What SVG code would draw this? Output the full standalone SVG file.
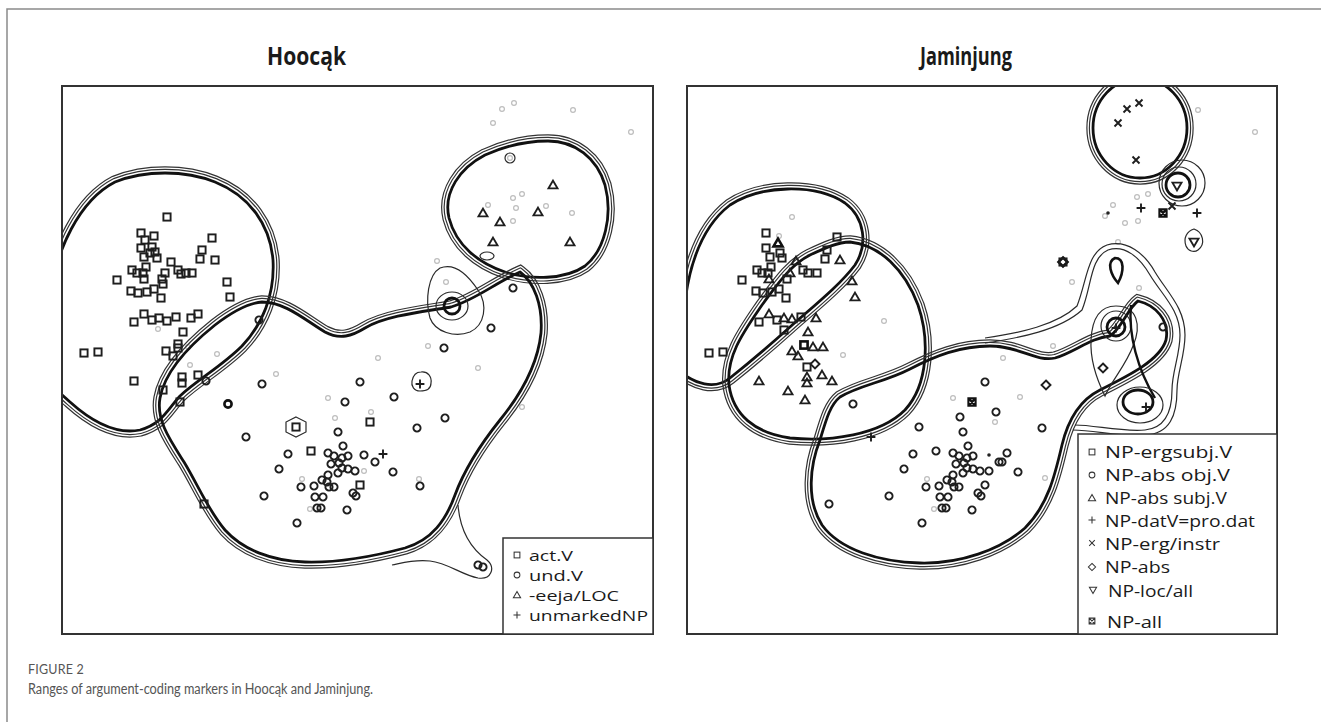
<svg xmlns="http://www.w3.org/2000/svg" width="1321" height="722" viewBox="0 0 1321 722">
<style>
.frame{fill:none;stroke:#8a8a8a;stroke-width:1.5}
.panel{fill:none;stroke:#333;stroke-width:2}
.title{font-family:"Open Sans","Liberation Sans",sans-serif;font-weight:700;font-size:25px;fill:#1a1a1a}
.leg{font-family:"Open Sans","Liberation Sans",sans-serif;font-size:17px;fill:#1a1a1a}
.legs{font-family:"Open Sans","Liberation Sans",sans-serif;font-size:15px;fill:#1a1a1a}
.cap1{font-family:Lato,"Open Sans",sans-serif;font-size:12.5px;fill:#555;letter-spacing:0.2px}
.cap2{font-family:Lato,"Open Sans",sans-serif;font-size:15.5px;fill:#555}
.mk{fill:none;stroke:#1e1e1e;stroke-width:1.9}
.mkb{fill:none;stroke:#111;stroke-width:2.6}
.mkx{fill:none;stroke:#111;stroke-width:2.1}
.lmk{fill:none;stroke:#333;stroke-width:1.3}
.gd{fill:none;stroke:#bdbdbd;stroke-width:1.2}
.bl{fill:none;stroke:#111;stroke-width:2.8}
.t1{fill:none;stroke:#333;stroke-width:8.4}
.t2{fill:none;stroke:#333;stroke-width:13.4}
.m1{fill:#000;stroke:#000;stroke-width:6}
.m2{fill:#000;stroke:#000;stroke-width:11}
.th{fill:none;stroke:#2a2a2a;stroke-width:1.2}
.dt{fill:#222}
</style>
<defs>
<g id="sq"><rect x="-3.6" y="-3.6" width="7.2" height="7.2"/></g>
<circle id="ci" r="3.6"/>
<path id="tr" d="M0,-4.4L4.5,3.4H-4.5Z"/>
<path id="pl" d="M-4.4,0H4.4M0,-4.4V4.4"/>
<path id="xx" d="M-3.5,-3.5L3.5,3.5M-3.5,3.5L3.5,-3.5"/>
<path id="di" d="M0,-4.5L4.5,0L0,4.5L-4.5,0Z"/>
<path id="td" d="M-4.5,-3.4H4.5L0,4.4Z"/>
<path id="sx" d="M-3.6,-3.6H3.6V3.6H-3.6Z M-3.6,-3.6L3.6,3.6M-3.6,3.6L3.6,-3.6"/>
<circle id="gdot" r="2.4"/>
<clipPath id="clipL"><rect x="62" y="86" width="591" height="548"/></clipPath>
<clipPath id="clipR"><rect x="687" y="86" width="590" height="548"/></clipPath>

<path id="pA1" d="M50,300 C55,250 80,200 115,182 C145,170 185,170 215,182 C250,196 270,225 273,260 C275,295 262,325 242,346 C222,366 197,380 180,396 C167,410 162,424 140,430 C115,435 90,420 70,402 C60,393 52,386 45,380 Z"/>
<path id="pA2" d="M548,141 C575,141 597,158 605,185 C613,215 605,250 585,266 C565,280 530,280 505,272 C478,263 456,245 449,218 C443,192 460,168 485,155 C505,146 525,141 548,141 Z"/>
<path id="pA3" d="M262,302 C285,302 305,320 325,332 C340,340 352,336 365,328 C385,316 420,312 451,307 C475,300 495,283 520,272 C534,282 543,305 541,333 C538,362 522,393 500,420 C480,445 465,468 455,495 C446,520 432,540 405,548 C375,556 340,563 305,562 C272,561 243,550 225,530 C208,510 198,485 184,462 C170,440 156,420 160,398 C165,370 190,345 215,325 C232,312 248,303 262,302 Z"/>
<path id="pR1" d="M684,310 C688,270 700,228 730,205 C760,185 815,183 845,203 C865,218 868,245 855,265 C840,285 815,305 790,327 C770,345 750,362 730,378 C715,390 695,385 675,368 Z"/>
<path id="pR2" d="M850,242 C880,245 905,270 918,305 C930,340 928,385 905,410 C880,435 830,442 790,438 C755,433 733,415 729,385 C726,355 745,330 762,305 C777,285 790,265 810,255 C825,248 838,242 850,242 Z"/>
<path id="pR3" d="M840,397 C860,385 885,382 910,369 C935,356 960,346 990,346 C1020,346 1035,362 1055,358 C1075,352 1090,338 1110,336 C1122,328 1128,308 1138,301 C1155,305 1170,320 1166,340 C1160,360 1130,375 1100,390 C1080,400 1068,420 1062,445 C1055,475 1048,505 1025,528 C1000,550 960,564 920,563 C880,562 840,550 822,525 C806,500 810,465 820,440 C826,420 830,405 840,397 Z"/>
<path id="pR4" d="M1093,128 A47,50 0 1,0 1187,128 A47,50 0 1,0 1093,128 Z"/>

<mask id="kA1a" maskUnits="userSpaceOnUse" x="0" y="0" width="1321" height="722"><rect width="1321" height="722" fill="#fff"/><use href="#pA1" class="m1"/></mask>
<mask id="kA1b" maskUnits="userSpaceOnUse" x="0" y="0" width="1321" height="722"><rect width="1321" height="722" fill="#fff"/><use href="#pA1" class="m2"/></mask>
<mask id="kA2a" maskUnits="userSpaceOnUse" x="0" y="0" width="1321" height="722"><rect width="1321" height="722" fill="#fff"/><use href="#pA2" class="m1"/></mask>
<mask id="kA2b" maskUnits="userSpaceOnUse" x="0" y="0" width="1321" height="722"><rect width="1321" height="722" fill="#fff"/><use href="#pA2" class="m2"/></mask>
<mask id="kA3a" maskUnits="userSpaceOnUse" x="0" y="0" width="1321" height="722"><rect width="1321" height="722" fill="#fff"/><use href="#pA3" class="m1"/></mask>
<mask id="kA3b" maskUnits="userSpaceOnUse" x="0" y="0" width="1321" height="722"><rect width="1321" height="722" fill="#fff"/><use href="#pA3" class="m2"/></mask>
<mask id="kR1a" maskUnits="userSpaceOnUse" x="0" y="0" width="1321" height="722"><rect width="1321" height="722" fill="#fff"/><use href="#pR1" class="m1"/></mask>
<mask id="kR1b" maskUnits="userSpaceOnUse" x="0" y="0" width="1321" height="722"><rect width="1321" height="722" fill="#fff"/><use href="#pR1" class="m2"/></mask>
<mask id="kR2a" maskUnits="userSpaceOnUse" x="0" y="0" width="1321" height="722"><rect width="1321" height="722" fill="#fff"/><use href="#pR2" class="m1"/></mask>
<mask id="kR2b" maskUnits="userSpaceOnUse" x="0" y="0" width="1321" height="722"><rect width="1321" height="722" fill="#fff"/><use href="#pR2" class="m2"/></mask>
<mask id="kR3a" maskUnits="userSpaceOnUse" x="0" y="0" width="1321" height="722"><rect width="1321" height="722" fill="#fff"/><use href="#pR3" class="m1"/></mask>
<mask id="kR3b" maskUnits="userSpaceOnUse" x="0" y="0" width="1321" height="722"><rect width="1321" height="722" fill="#fff"/><use href="#pR3" class="m2"/></mask>
<mask id="kR4a" maskUnits="userSpaceOnUse" x="0" y="0" width="1321" height="722"><rect width="1321" height="722" fill="#fff"/><use href="#pR4" class="m1"/></mask>
<mask id="kR4b" maskUnits="userSpaceOnUse" x="0" y="0" width="1321" height="722"><rect width="1321" height="722" fill="#fff"/><use href="#pR4" class="m2"/></mask>
</defs>

<rect width="1321" height="722" fill="#fff"/>
<path class="frame" d="M7,722 V9 H1321"/>

<!-- Titles -->
<text id="title-hoocak" class="title" x="267" y="65" textLength="79" lengthAdjust="spacingAndGlyphs">Hoocąk</text>
<text id="title-jaminjung" class="title" x="920" y="65" textLength="92" lengthAdjust="spacingAndGlyphs">Jaminjung</text>

<!-- LEFT PANEL -->
<g id="panel-hoocak">
<g clip-path="url(#clipL)">
<g id="gray-left" class="gd">
<use href="#gdot" x="502" y="109"/><use href="#gdot" x="514" y="103"/><use href="#gdot" x="493" y="123"/><use href="#gdot" x="573" y="110"/><use href="#gdot" x="631" y="132"/>
<use href="#gdot" x="513" y="198"/><use href="#gdot" x="522" y="194"/><use href="#gdot" x="488" y="205"/><use href="#gdot" x="516" y="208"/><use href="#gdot" x="546" y="206"/><use href="#gdot" x="513" y="221"/><use href="#gdot" x="572" y="213"/>
<use href="#gdot" x="437" y="261"/><use href="#gdot" x="446" y="282"/><use href="#gdot" x="428" y="346"/><use href="#gdot" x="378" y="358"/><use href="#gdot" x="478" y="368"/><use href="#gdot" x="522" y="407"/><use href="#gdot" x="419" y="479"/>
<use href="#gdot" x="217" y="354"/><use href="#gdot" x="188" y="347"/><use href="#gdot" x="190" y="365"/><use href="#gdot" x="276" y="374"/><use href="#gdot" x="328" y="398"/><use href="#gdot" x="335" y="418"/><use href="#gdot" x="371" y="412"/><use href="#gdot" x="302" y="479"/><use href="#gdot" x="310" y="509"/><use href="#gdot" x="364" y="471"/><use href="#gdot" x="158" y="329"/><use href="#gdot" x="510" y="158"/>
</g>
<g id="contours-left">
<g id="range-actV"><use href="#pA1" class="t1" mask="url(#kA1a)"/><use href="#pA1" class="t2" mask="url(#kA1b)"/><use href="#pA1" class="bl"/></g>
<g id="range-eeja"><use href="#pA2" class="t1" mask="url(#kA2a)"/><use href="#pA2" class="t2" mask="url(#kA2b)"/><use href="#pA2" class="bl"/></g>
<g id="range-undV"><use href="#pA3" class="t1" mask="url(#kA3a)"/><use href="#pA3" class="t2" mask="url(#kA3b)"/><use href="#pA3" class="bl"/></g>
<path class="th" d="M458,505 C460,530 470,548 487,560 C496,568 491,580 478,578 C462,575 448,563 430,561 C415,559 402,563 392,565"/>
<path class="th" d="M440,268 C455,262 468,275 478,290 C488,305 485,325 470,332 C455,338 435,332 430,318 C425,300 428,275 440,268 Z"/>
<ellipse class="th" cx="452" cy="306" rx="16" ry="14"/>
<circle cx="452" cy="306" r="8" fill="none" stroke="#111" stroke-width="2.8"/>
<circle class="th" cx="510" cy="158" r="5"/>
<ellipse class="th" cx="487" cy="256" rx="7" ry="4"/>
<path class="th" d="M296,417 L306,422 L306,432 L296,437 L286,432 L286,422 Z"/>
<path class="th" d="M421,372 C428,371 432,377 431,383 C431,389 426,391 420,391 C414,391 411,386 412,381 C413,376 416,372 421,372 Z"/>
</g>
<g id="markers-left" class="mk">
<use href="#sq" x="167" y="217"/><use href="#sq" x="141" y="233"/><use href="#sq" x="154" y="236"/><use href="#sq" x="145" y="240"/><use href="#sq" x="141" y="248"/><use href="#sq" x="152" y="247"/><use href="#sq" x="155" y="252"/><use href="#sq" x="150" y="253"/><use href="#sq" x="144" y="257"/><use href="#sq" x="157" y="258"/><use href="#sq" x="171" y="262"/><use href="#sq" x="212" y="238"/><use href="#sq" x="202" y="250"/><use href="#sq" x="200" y="259"/><use href="#sq" x="215" y="260"/><use href="#sq" x="132" y="270"/><use href="#sq" x="137" y="273"/><use href="#sq" x="146" y="267"/><use href="#sq" x="143" y="273"/><use href="#sq" x="144" y="279"/><use href="#sq" x="165" y="273"/><use href="#sq" x="178" y="270"/><use href="#sq" x="181" y="274"/><use href="#sq" x="186" y="273"/><use href="#sq" x="192" y="273"/><use href="#sq" x="117" y="280"/><use href="#sq" x="162" y="279"/><use href="#sq" x="163" y="284"/><use href="#sq" x="131" y="291"/><use href="#sq" x="138" y="293"/><use href="#sq" x="147" y="292"/><use href="#sq" x="154" y="289"/><use href="#sq" x="161" y="298"/><use href="#sq" x="227" y="282"/><use href="#sq" x="230" y="297"/><use href="#sq" x="134" y="322"/><use href="#sq" x="144" y="314"/><use href="#sq" x="152" y="320"/><use href="#sq" x="159" y="318"/><use href="#sq" x="167" y="321"/><use href="#sq" x="176" y="317"/><use href="#sq" x="191" y="318"/><use href="#sq" x="198" y="314"/><use href="#sq" x="183" y="332"/><use href="#sq" x="178" y="344"/><use href="#sq" x="178" y="348"/><use href="#sq" x="166" y="351"/><use href="#sq" x="173" y="356"/><use href="#sq" x="84" y="353"/><use href="#sq" x="98" y="352"/><use href="#sq" x="134" y="381"/><use href="#sq" x="182" y="377"/><use href="#sq" x="182" y="383"/><use href="#sq" x="163" y="390"/><use href="#sq" x="180" y="402"/><use href="#sq" x="198" y="375"/><use href="#sq" x="204" y="504"/><use href="#sq" x="296" y="427"/><use href="#sq" x="311" y="451"/><use href="#sq" x="370" y="422"/><use href="#sq" x="360" y="485"/>
<use href="#ci" x="206" y="381"/><use href="#ci" x="262" y="384"/><use href="#ci" x="246" y="437"/><use href="#ci" x="360" y="382"/><use href="#ci" x="345" y="402"/><use href="#ci" x="338" y="432"/><use href="#ci" x="343" y="446"/><use href="#ci" x="288" y="454"/><use href="#ci" x="279" y="469"/><use href="#ci" x="328" y="453"/><use href="#ci" x="334" y="456"/><use href="#ci" x="342" y="458"/><use href="#ci" x="348" y="456"/><use href="#ci" x="364" y="455"/><use href="#ci" x="331" y="464"/><use href="#ci" x="339" y="463"/><use href="#ci" x="338" y="473"/><use href="#ci" x="342" y="468"/><use href="#ci" x="348" y="469"/><use href="#ci" x="355" y="471"/><use href="#ci" x="328" y="475"/><use href="#ci" x="322" y="480"/><use href="#ci" x="327" y="482"/><use href="#ci" x="329" y="487"/><use href="#ci" x="334" y="487"/><use href="#ci" x="301" y="487"/><use href="#ci" x="314" y="486"/><use href="#ci" x="315" y="497"/><use href="#ci" x="323" y="497"/><use href="#ci" x="317" y="508"/><use href="#ci" x="321" y="508"/><use href="#ci" x="264" y="496"/><use href="#ci" x="297" y="523"/><use href="#ci" x="347" y="510"/><use href="#ci" x="353" y="493"/><use href="#ci" x="356" y="496"/><use href="#ci" x="375" y="462"/><use href="#ci" x="444" y="348"/><use href="#ci" x="394" y="397"/><use href="#ci" x="445" y="418"/><use href="#ci" x="417" y="428"/><use href="#ci" x="393" y="472"/><use href="#ci" x="420" y="486"/><use href="#ci" x="483" y="567"/><use href="#ci" x="478" y="565"/><use href="#ci" x="513" y="288"/><use href="#ci" x="491" y="328"/><use href="#ci" x="259" y="320"/>
<use href="#ci" x="228" y="404" class="mkb"/>
<use href="#tr" x="553" y="185"/><use href="#tr" x="483" y="213"/><use href="#tr" x="500" y="222"/><use href="#tr" x="538" y="212"/><use href="#tr" x="493" y="242"/><use href="#tr" x="570" y="242"/>
<use href="#pl" x="383" y="454"/><use href="#pl" x="420" y="384"/>
</g>
</g>
<rect class="panel" x="62" y="86" width="591" height="548"/>
<g id="legend-hoocak">
<rect x="503" y="538" width="150" height="96" fill="#fff" stroke="#333" stroke-width="1.5"/>
<use href="#sq" class="lmk" transform="translate(517,555) scale(0.8)"/>
<use href="#ci" class="lmk" transform="translate(517,575) scale(0.8)"/>
<use href="#tr" class="lmk" transform="translate(517,595) scale(0.8)"/>
<use href="#pl" class="lmk" transform="translate(517,615) scale(0.8)"/>
<text class="legs" x="529" y="561" textLength="44" lengthAdjust="spacingAndGlyphs">act.V</text>
<text class="legs" x="529" y="581" textLength="54" lengthAdjust="spacingAndGlyphs">und.V</text>
<text class="legs" x="529" y="601" textLength="90" lengthAdjust="spacingAndGlyphs">-eeja/LOC</text>
<text class="legs" x="529" y="621" textLength="119" lengthAdjust="spacingAndGlyphs">unmarkedNP</text>
</g>
</g>

<!-- RIGHT PANEL -->
<g id="panel-jaminjung">
<g clip-path="url(#clipR)">
<g id="gray-right" class="gd">
<use href="#gdot" x="792" y="217"/><use href="#gdot" x="779" y="236"/><use href="#gdot" x="884" y="321"/><use href="#gdot" x="843" y="355"/>
<use href="#gdot" x="953" y="398"/><use href="#gdot" x="934" y="509"/><use href="#gdot" x="995" y="422"/><use href="#gdot" x="927" y="479"/>
<use href="#gdot" x="1003" y="358"/><use href="#gdot" x="1020" y="397"/><use href="#gdot" x="1045" y="478"/><use href="#gdot" x="1053" y="346"/>
<use href="#gdot" x="1198" y="110"/><use href="#gdot" x="1255" y="132"/><use href="#gdot" x="1137" y="197"/><use href="#gdot" x="1148" y="194"/><use href="#gdot" x="1113" y="205"/><use href="#gdot" x="1125" y="223"/><use href="#gdot" x="1138" y="221"/><use href="#gdot" x="1105" y="216"/><use href="#gdot" x="1118" y="242"/><use href="#gdot" x="1072" y="282"/><use href="#gdot" x="1139" y="288"/>
</g>
<g id="contours-right">
<g id="range-ergsubj"><use href="#pR1" class="t1" mask="url(#kR1a)"/><use href="#pR1" class="t2" mask="url(#kR1b)"/><use href="#pR1" class="bl"/></g>
<g id="range-abssubj"><use href="#pR2" class="t1" mask="url(#kR2a)"/><use href="#pR2" class="t2" mask="url(#kR2b)"/><use href="#pR2" class="bl"/></g>
<g id="range-absobj"><use href="#pR3" class="t1" mask="url(#kR3a)"/><use href="#pR3" class="t2" mask="url(#kR3b)"/><use href="#pR3" class="bl"/></g>
<g id="range-erginstr"><use href="#pR4" class="t1" mask="url(#kR4a)"/><use href="#pR4" class="t2" mask="url(#kR4b)"/><use href="#pR4" class="bl"/></g>
<g id="range-locall">
<circle cx="1178" cy="185" r="12" fill="none" stroke="#111" stroke-width="2.8"/>
<circle class="th" cx="1179" cy="184" r="17"/>
<circle class="th" cx="1182" cy="183" r="23"/>
<path class="th" d="M1194,229 C1203,232 1206,244 1198,250 C1194,253 1188,251 1186,246 C1183,238 1187,231 1194,229 Z"/>
</g>
<g id="range-datV">
<path d="M1115,258 C1125,258 1124,272 1118,283 C1111,275 1106,262 1115,258 Z" fill="none" stroke="#111" stroke-width="2.6"/>
<path class="th" d="M985,343 C1020,338 1060,330 1082,310 C1092,285 1090,258 1108,250 C1125,244 1140,258 1150,275 C1162,295 1180,310 1180,335 C1180,355 1172,372 1172,390 C1172,412 1165,428 1145,430 C1120,432 1095,425 1075,425"/>
<path class="th" d="M985,338 C1020,333 1057,325 1077,306 C1087,281 1087,252 1107,245 C1127,239 1145,254 1155,272 C1167,292 1185,308 1185,335 C1185,356 1177,373 1177,390 C1177,415 1170,434 1145,435 C1120,437 1095,430 1073,430"/>
<circle cx="1116" cy="327" r="9" fill="none" stroke="#111" stroke-width="2.8"/>
<circle class="th" cx="1116" cy="326" r="15"/>
<path class="th" d="M1116,306 C1137,306 1142,325 1133,346 C1126,365 1112,380 1105,396 C1097,380 1090,360 1091,340 C1092,320 1099,306 1116,306 Z"/>
<path fill="none" stroke="#111" stroke-width="2.4" d="M1131,305 C1128,335 1138,370 1155,398"/>
<ellipse cx="1138" cy="402" rx="15" ry="12" fill="none" stroke="#111" stroke-width="2.8"/>
<ellipse class="th" cx="1140" cy="405" rx="23" ry="18"/>
</g>
</g>
<g id="markers-right" class="mk">
<use href="#sq" x="766" y="233"/><use href="#sq" x="837" y="237"/><use href="#sq" x="766" y="248"/><use href="#sq" x="770" y="257"/><use href="#sq" x="780" y="253"/><use href="#sq" x="782" y="258"/><use href="#sq" x="757" y="270"/><use href="#sq" x="762" y="273"/><use href="#sq" x="771" y="267"/><use href="#sq" x="768" y="273"/><use href="#sq" x="742" y="280"/><use href="#sq" x="756" y="291"/><use href="#sq" x="763" y="293"/><use href="#sq" x="772" y="292"/><use href="#sq" x="779" y="289"/><use href="#sq" x="786" y="298"/><use href="#sq" x="827" y="250"/><use href="#sq" x="825" y="259"/><use href="#sq" x="803" y="270"/><use href="#sq" x="808" y="273"/><use href="#sq" x="817" y="273"/><use href="#sq" x="787" y="279"/><use href="#sq" x="777" y="320"/><use href="#sq" x="801" y="317"/><use href="#sq" x="784" y="330"/><use href="#sq" x="759" y="322"/><use href="#sq" x="807" y="367"/><use href="#sq" x="709" y="353"/><use href="#sq" x="723" y="352"/>
<use href="#sq" x="804" y="345" class="mkb"/>
<use href="#tr" x="778" y="243" class="mkb"/>
<use href="#tr" x="796" y="261"/><use href="#tr" x="840" y="260"/><use href="#tr" x="790" y="273"/><use href="#tr" x="852" y="281"/><use href="#tr" x="855" y="297"/><use href="#tr" x="769" y="314"/><use href="#tr" x="784" y="318"/><use href="#tr" x="792" y="319"/><use href="#tr" x="816" y="318"/><use href="#tr" x="808" y="332"/><use href="#tr" x="813" y="347"/><use href="#tr" x="823" y="347"/><use href="#tr" x="792" y="351"/><use href="#tr" x="798" y="356"/><use href="#tr" x="807" y="377"/><use href="#tr" x="807" y="383"/><use href="#tr" x="822" y="375"/><use href="#tr" x="832" y="381"/><use href="#tr" x="759" y="381"/><use href="#tr" x="788" y="391"/><use href="#tr" x="805" y="400"/><use href="#tr" x="769" y="279"/>
<use href="#di" x="815" y="364"/><use href="#di" x="1103" y="368"/><use href="#di" x="1046" y="385"/>
<use href="#di" x="1063" y="262" class="mkb"/><use href="#sq" x="1063" y="262"/>
<use href="#ci" x="853" y="404"/><use href="#ci" x="919" y="427"/><use href="#ci" x="936" y="451"/><use href="#ci" x="829" y="504"/><use href="#ci" x="985" y="382"/><use href="#ci" x="960" y="417"/><use href="#ci" x="963" y="432"/><use href="#ci" x="996" y="412"/><use href="#ci" x="968" y="446"/><use href="#ci" x="913" y="454"/><use href="#ci" x="904" y="469"/><use href="#ci" x="953" y="453"/><use href="#ci" x="959" y="456"/><use href="#ci" x="967" y="458"/><use href="#ci" x="973" y="456"/><use href="#ci" x="956" y="464"/><use href="#ci" x="964" y="463"/><use href="#ci" x="963" y="473"/><use href="#ci" x="967" y="468"/><use href="#ci" x="973" y="469"/><use href="#ci" x="980" y="471"/><use href="#ci" x="989" y="471"/><use href="#ci" x="953" y="475"/><use href="#ci" x="947" y="480"/><use href="#ci" x="952" y="482"/><use href="#ci" x="954" y="487"/><use href="#ci" x="959" y="487"/><use href="#ci" x="926" y="487"/><use href="#ci" x="939" y="486"/><use href="#ci" x="940" y="497"/><use href="#ci" x="948" y="497"/><use href="#ci" x="942" y="508"/><use href="#ci" x="946" y="508"/><use href="#ci" x="889" y="496"/><use href="#ci" x="922" y="523"/><use href="#ci" x="972" y="510"/><use href="#ci" x="978" y="493"/><use href="#ci" x="981" y="496"/><use href="#ci" x="985" y="485"/><use href="#ci" x="999" y="462"/><use href="#ci" x="1042" y="428"/><use href="#ci" x="1007" y="453"/><use href="#ci" x="1002" y="462"/><use href="#ci" x="1018" y="472"/><use href="#ci" x="1163" y="327"/>
<use href="#pl" x="871" y="437"/><use href="#pl" x="1116" y="328"/><use href="#pl" x="1146" y="407"/><use href="#pl" x="1141" y="208"/><use href="#pl" x="1197" y="213"/>
<use href="#xx" x="1127" y="109"/><use href="#xx" x="1139" y="103"/><use href="#xx" x="1118" y="123"/><use href="#xx" x="1136" y="160"/><use href="#xx" x="1172" y="206"/>
<use href="#td" x="1177" y="186"/><use href="#td" x="1194" y="242"/>
<use href="#sx" x="1163" y="213" class="mkx"/><use href="#sx" x="972" y="402" class="mkx"/>
</g>
<circle class="dt" cx="1108" cy="213" r="1.8"/>
<circle class="dt" cx="989" cy="455" r="1.8"/>
</g>
<rect class="panel" x="687" y="86" width="590" height="548"/>
<g id="legend-jaminjung">
<rect x="1078" y="434" width="199" height="200" fill="#fff" stroke="#333" stroke-width="1.5"/>
<use href="#sq" class="lmk" transform="translate(1092,452) scale(0.8)"/>
<use href="#ci" class="lmk" transform="translate(1092,475) scale(0.8)"/>
<use href="#tr" class="lmk" transform="translate(1092,498) scale(0.8)"/>
<use href="#pl" class="lmk" transform="translate(1092,520) scale(0.8)"/>
<use href="#xx" class="lmk" transform="translate(1092,543) scale(0.8)"/>
<use href="#di" class="lmk" transform="translate(1092,567) scale(0.8)"/>
<use href="#td" class="lmk" transform="translate(1093,590) scale(0.8)"/>
<use href="#sx" class="lmk" transform="translate(1092,621) scale(0.8)"/>
<text class="leg" x="1105" y="458" textLength="127" lengthAdjust="spacingAndGlyphs">NP-ergsubj.V</text>
<text class="leg" x="1105" y="481" textLength="125" lengthAdjust="spacingAndGlyphs">NP-abs obj.V</text>
<text class="leg" x="1105" y="504" textLength="122" lengthAdjust="spacingAndGlyphs">NP-abs subj.V</text>
<text class="leg" x="1105" y="527" textLength="150" lengthAdjust="spacingAndGlyphs">NP-datV=pro.dat</text>
<text class="leg" x="1105" y="550" textLength="115" lengthAdjust="spacingAndGlyphs">NP-erg/instr</text>
<text class="leg" x="1105" y="573" textLength="65" lengthAdjust="spacingAndGlyphs">NP-abs</text>
<text class="leg" x="1108" y="597" textLength="85" lengthAdjust="spacingAndGlyphs">NP-loc/all</text>
<text class="leg" x="1107" y="628" textLength="55" lengthAdjust="spacingAndGlyphs">NP-all</text>
</g>
</g>

<!-- Caption -->
<g id="caption">
<text class="cap1" x="28" y="674">FIGURE 2</text>
<text class="cap2" x="28" y="694" textLength="345" lengthAdjust="spacingAndGlyphs">Ranges of argument-coding markers in Hoocąk and Jaminjung.</text>
</g>
</svg>
